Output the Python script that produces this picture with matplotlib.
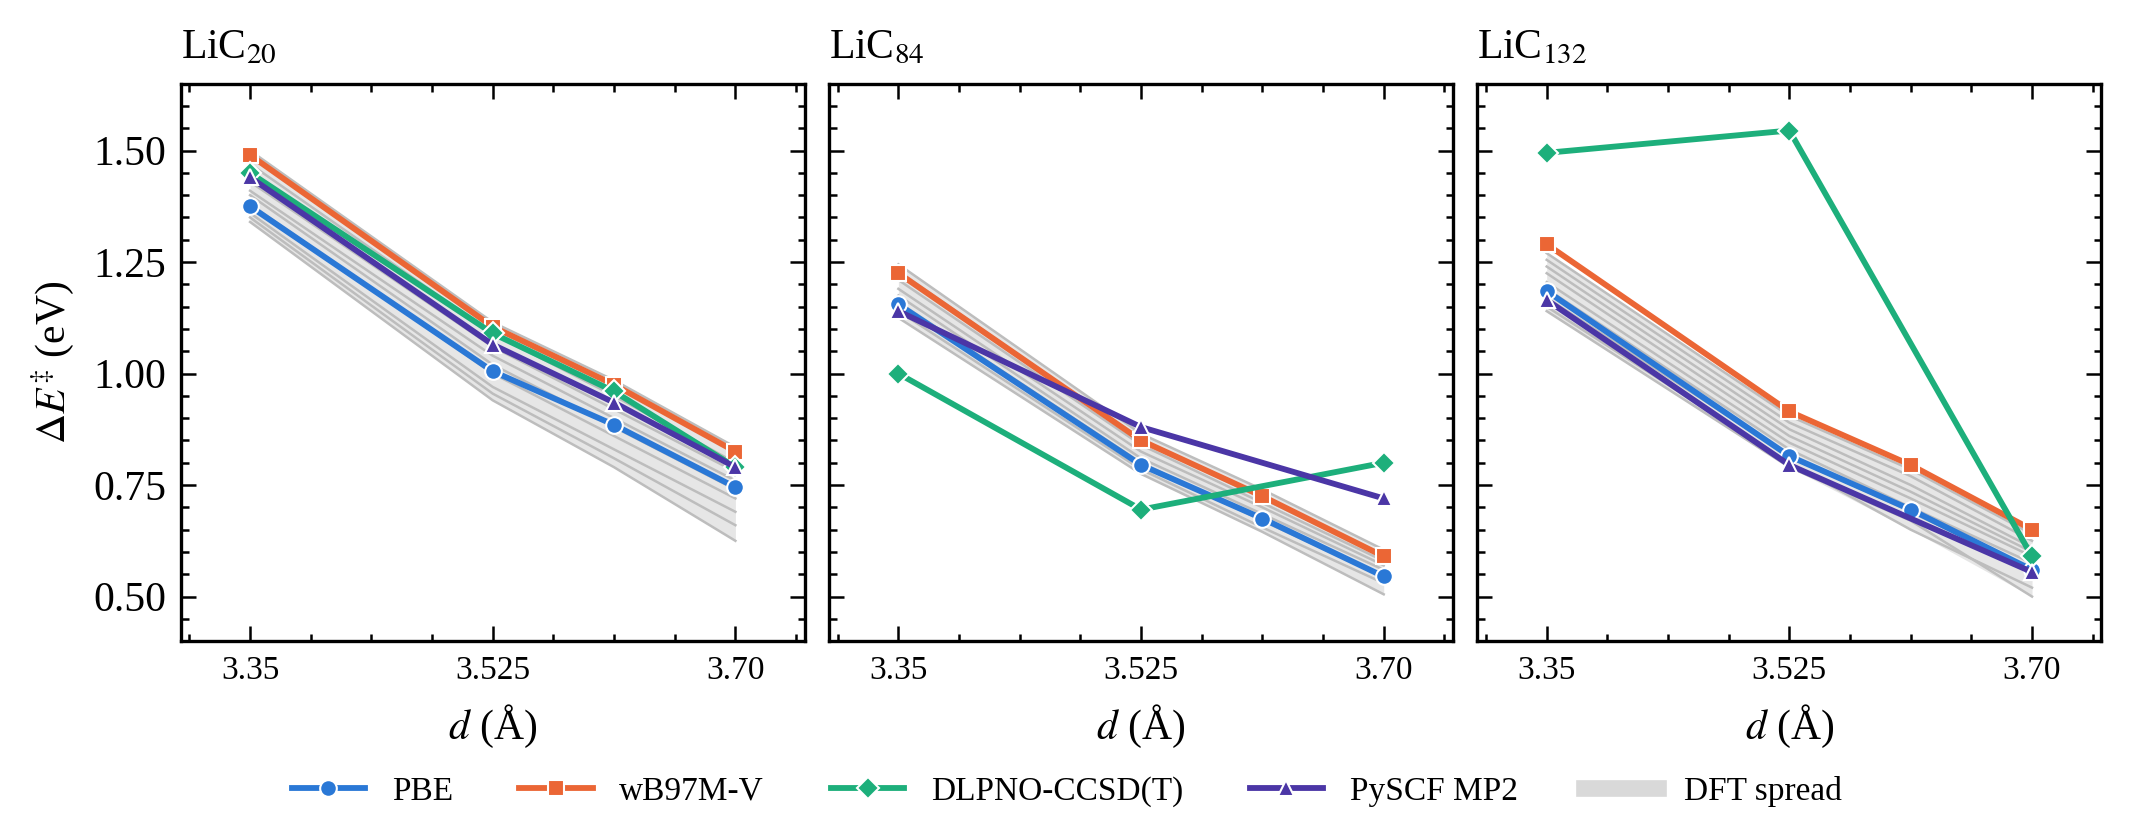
import matplotlib
matplotlib.use("Agg")
import matplotlib.pyplot as plt
from matplotlib.ticker import MultipleLocator, FixedLocator
from matplotlib.lines import Line2D
import numpy as np

plt.rcParams["font.family"] = ["Liberation Serif", "DejaVu Serif"]
plt.rcParams["mathtext.fontset"] = "stix"

# ===== DATA =====
d4 = [3.35, 3.525, 3.6125, 3.70]
d3 = [3.35, 3.525, 3.70]
titles = [r"LiC$_{20}$", r"LiC$_{84}$", r"LiC$_{132}$"]

pbe = [[1.375, 1.005, 0.885, 0.745],
       [1.155, 0.795, 0.675, 0.545],
       [1.185, 0.815, 0.695, 0.560]]
wb97 = [[1.490, 1.105, 0.975, 0.825],
        [1.225, 0.850, 0.725, 0.590],
        [1.290, 0.915, 0.795, 0.650]]
dlpno_x = [d4, d3, d3]
dlpno = [[1.450, 1.090, 0.960, 0.790],
         [1.000, 0.695, 0.800],
         [1.495, 1.545, 0.590]]
mp2_x = [d4, d3, d3]
mp2 = [[1.440, 1.065, 0.935, 0.790],
       [1.140, 0.880, 0.720],
       [1.165, 0.795, 0.555]]

# other DFT functionals (grey spread)
dft_lines = [
    [[1.500, 1.115, 0.985, 0.835], [1.470, 1.090, 0.950, 0.800],
     [1.430, 1.060, 0.920, 0.780], [1.410, 1.040, 0.900, 0.760],
     [1.400, 1.020, 0.880, 0.740], [1.380, 1.000, 0.860, 0.720],
     [1.360, 0.970, 0.830, 0.690], [1.350, 0.955, 0.810, 0.660],
     [1.340, 0.940, 0.790, 0.625]],
    [[1.245, 0.865, 0.740, 0.605], [1.230, 0.850, 0.720, 0.590],
     [1.210, 0.840, 0.710, 0.580], [1.190, 0.825, 0.700, 0.570],
     [1.175, 0.810, 0.685, 0.560], [1.160, 0.800, 0.670, 0.545],
     [1.140, 0.785, 0.655, 0.530], [1.125, 0.775, 0.645, 0.505]],
    [[1.270, 0.905, 0.785, 0.640], [1.255, 0.890, 0.770, 0.625],
     [1.240, 0.875, 0.750, 0.610], [1.225, 0.860, 0.735, 0.600],
     [1.205, 0.845, 0.720, 0.590], [1.190, 0.830, 0.700, 0.575],
     [1.170, 0.815, 0.690, 0.560], [1.150, 0.800, 0.650, 0.520],
     [1.140, 0.790, 0.670, 0.500]],
]

c_pbe = "#2a78d6"
c_wb = "#eb6635"
c_dl = "#1daf7b"
c_mp2 = "#4b36a6"

fig = plt.figure(figsize=(2134 / 300, 837 / 300), dpi=300)

for i in range(3):
    ax = fig.add_axes([0.0847 + i * 0.3038, 0.234, 0.2924, 0.666])
    arr = np.array(dft_lines[i])
    ax.fill_between(d4, arr.min(axis=0), arr.max(axis=0), color="#e6e6e6", lw=0, zorder=1)
    for row in dft_lines[i]:
        ax.plot(d4, row, color="#bdbdbd", lw=0.6, zorder=2)

    mk = dict(markeredgecolor="white", markeredgewidth=0.5, lw=1.4, zorder=5)
    ax.plot(d4, pbe[i], color=c_pbe, marker="o", ms=4, **mk)
    ax.plot(d4, wb97[i], color=c_wb, marker="s", ms=4, **mk)
    ax.plot(dlpno_x[i], dlpno[i], color=c_dl, marker="D", ms=3.6, **mk)
    ax.plot(mp2_x[i], mp2[i], color=c_mp2, marker="^", ms=4, **mk)

    ax.set_xlim(3.30, 3.75)
    ax.set_ylim(0.40, 1.65)
    ax.xaxis.set_major_locator(FixedLocator([3.35, 3.525, 3.70]))
    ax.set_xticklabels(["3.35", "3.525", "3.70"], fontsize=8)
    ax.xaxis.set_minor_locator(FixedLocator(np.arange(3.30625, 3.75, 0.04375)))
    ax.yaxis.set_major_locator(MultipleLocator(0.25))
    ax.yaxis.set_minor_locator(MultipleLocator(0.05))
    ax.tick_params(which="both", direction="in", top=True, right=True, width=0.6)
    ax.tick_params(which="major", length=3.5)
    ax.tick_params(which="minor", length=1.8)
    for s in ax.spines.values():
        s.set_linewidth(0.8)
    ax.set_title(titles[i], loc="left", fontsize=10)
    ax.set_xlabel(r"$d$ (Å)", fontsize=10)
    if i == 0:
        ax.set_ylabel(r"$\Delta E^{\ddagger}$ (eV)", fontsize=10)
        ax.yaxis.set_major_formatter(plt.FormatStrFormatter("%.2f"))
        ax.tick_params(axis="y", labelsize=10)
    else:
        ax.set_yticklabels([])

handles = [
    Line2D([], [], color=c_pbe, marker="o", ms=4, markeredgecolor="white", markeredgewidth=0.5, lw=1.4, label="PBE"),
    Line2D([], [], color=c_wb, marker="s", ms=4, markeredgecolor="white", markeredgewidth=0.5, lw=1.4, label="wB97M-V"),
    Line2D([], [], color=c_dl, marker="D", ms=3.6, markeredgecolor="white", markeredgewidth=0.5, lw=1.4, label="DLPNO-CCSD(T)"),
    Line2D([], [], color=c_mp2, marker="^", ms=4, markeredgecolor="white", markeredgewidth=0.5, lw=1.4, label="PySCF MP2"),
    Line2D([], [], color="#d9d9d9", lw=4, label="DFT spread"),
]
fig.legend(handles=handles, loc="lower center", bbox_to_anchor=(0.5, 0.0),
           ncol=5, frameon=False, fontsize=8, handlelength=2.2, columnspacing=2.0)

fig.savefig("out.png", dpi=300)
